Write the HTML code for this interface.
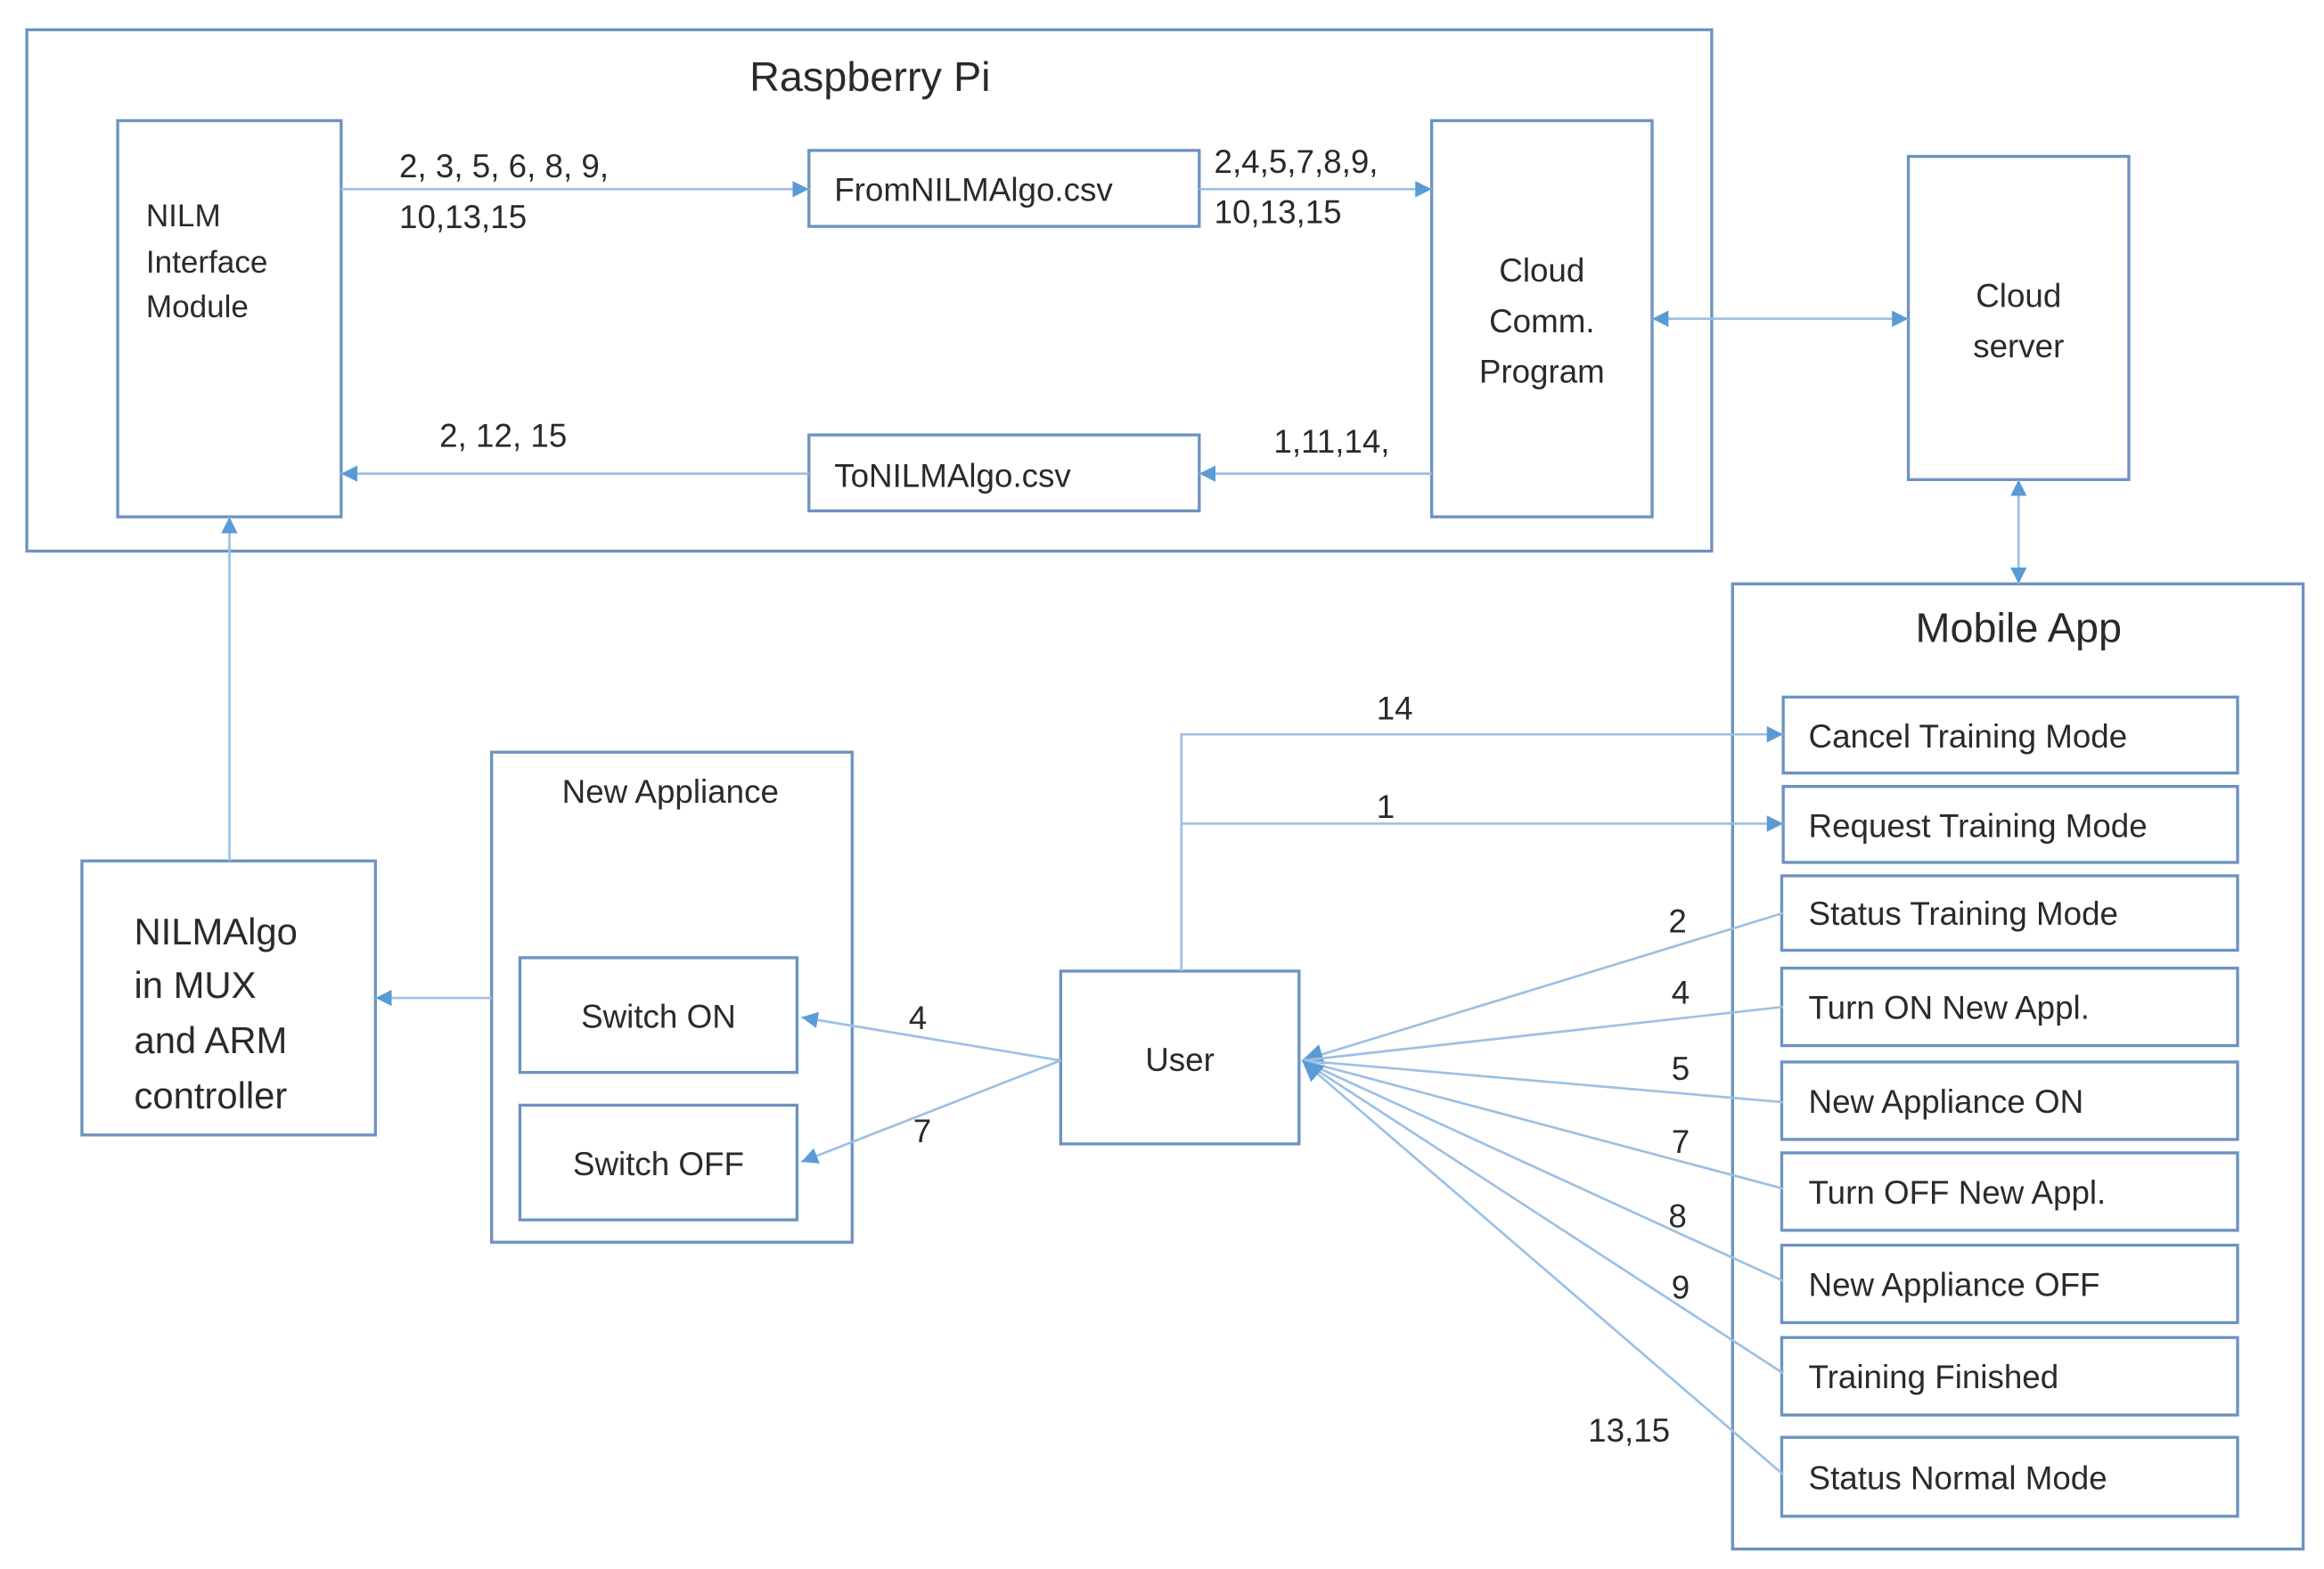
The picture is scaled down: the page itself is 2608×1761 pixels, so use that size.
<!DOCTYPE html>
<html><head><meta charset="utf-8"><style>
html,body{margin:0;padding:0;background:#fff;}
svg{display:block;}
text{font-family:"Liberation Sans",sans-serif;fill:#2a2a2a;}
</style></head><body>
<svg width="2608" height="1761" viewBox="0 0 1560 1053.4" preserveAspectRatio="none" xmlns="http://www.w3.org/2000/svg">
<defs>
<marker id="a" viewBox="0 0 10 10" refX="10" refY="5" markerWidth="11" markerHeight="11" orient="auto-start-reverse" markerUnits="userSpaceOnUse"><path d="M0,0 L10,5 L0,10 z" fill="#5b9bd5"/></marker>
<marker id="b" viewBox="0 0 10 10" refX="10" refY="5" markerWidth="14" markerHeight="14" orient="auto" markerUnits="userSpaceOnUse"><path d="M0,0 L10,5 L0,10 z" fill="#5b9bd5"/></marker>
</defs>
<g fill="#fff" stroke="#6d93c0" stroke-width="2">
<rect x="18" y="20" width="1131" height="350"/>
<rect x="79" y="81" width="150" height="266"/>
<rect x="543" y="101" width="262" height="51"/>
<rect x="543" y="292" width="262" height="51"/>
<rect x="961" y="81" width="148" height="266"/>
<rect x="1281" y="105" width="148" height="217"/>
<rect x="1163" y="392" width="383" height="648"/>
<rect x="1197" y="468" width="305" height="51"/>
<rect x="1197" y="528" width="305" height="51"/>
<rect x="1196" y="588" width="306" height="50"/>
<rect x="1196" y="650" width="306" height="52"/>
<rect x="1196" y="713" width="306" height="52"/>
<rect x="1196" y="774" width="306" height="52"/>
<rect x="1196" y="836" width="306" height="52"/>
<rect x="1196" y="898" width="306" height="52"/>
<rect x="1196" y="965" width="306" height="53"/>
<rect x="712" y="652" width="160" height="116"/>
<rect x="330" y="505" width="242" height="329"/>
<rect x="349" y="643" width="186" height="77"/>
<rect x="349" y="742" width="186" height="77"/>
<rect x="55" y="578" width="197" height="184"/>
</g>
<g stroke="#9cc0e4" stroke-width="1.6" fill="none">
<line x1="229" y1="127" x2="543" y2="127" marker-end="url(#a)"/>
<line x1="805" y1="127" x2="961" y2="127" marker-end="url(#a)"/>
<line x1="961" y1="318" x2="805" y2="318" marker-end="url(#a)"/>
<line x1="543" y1="318" x2="229" y2="318" marker-end="url(#a)"/>
<line x1="1109" y1="214" x2="1281" y2="214" marker-start="url(#a)" marker-end="url(#a)"/>
<line x1="1355" y1="322" x2="1355" y2="392" marker-start="url(#a)" marker-end="url(#a)"/>
<polyline points="793,652 793,493 1197,493" marker-end="url(#a)"/>
<line x1="793" y1="553" x2="1197" y2="553" marker-end="url(#a)"/>
<line x1="1197" y1="613" x2="874" y2="712" marker-end="url(#b)"/>
<line x1="1197" y1="676" x2="874" y2="712"/>
<line x1="1197" y1="740" x2="874" y2="712"/>
<line x1="1197" y1="798" x2="874" y2="712"/>
<line x1="1197" y1="860" x2="874" y2="712"/>
<line x1="1197" y1="922" x2="874" y2="712"/>
<line x1="1197" y1="990" x2="874" y2="712" marker-end="url(#b)"/>
<line x1="712" y1="712" x2="538" y2="683" marker-end="url(#a)"/>
<line x1="712" y1="712" x2="538" y2="780" marker-end="url(#a)"/>
<line x1="330" y1="670" x2="252" y2="670" marker-end="url(#a)"/>
<line x1="154" y1="578" x2="154" y2="347" marker-end="url(#a)"/>
</g>
<g font-size="28"><text x="584" y="61" text-anchor="middle">Raspberry Pi</text>
<text x="1355" y="431" text-anchor="middle">Mobile App</text></g>
<g font-size="21">
<text x="98" y="152">NILM</text><text x="98" y="183">Interface</text><text x="98" y="213">Module</text>
</g>
<g font-size="22">
<text x="560" y="135">FromNILMAlgo.csv</text>
<text x="560" y="327">ToNILMAlgo.csv</text>
<g text-anchor="middle"><text x="1035" y="189">Cloud</text><text x="1035" y="223">Comm.</text><text x="1035" y="257">Program</text>
<text x="1355" y="206">Cloud</text><text x="1355" y="240">server</text>
<text x="792" y="719">User</text>
<text x="450" y="539">New Appliance</text>
<text x="442" y="690">Switch ON</text>
<text x="442" y="789">Switch OFF</text></g>
<text x="268" y="119">2, 3, 5, 6, 8, 9,</text>
<text x="268" y="153">10,13,15</text>
<text x="815" y="116">2,4,5,7,8,9,</text>
<text x="815" y="150">10,13,15</text>
<text x="855" y="304">1,11,14,</text>
<text x="295" y="300">2, 12, 15</text>
<text x="924" y="483">14</text>
<text x="924" y="549">1</text>
<text x="1120" y="626">2</text>
<text x="1122" y="674">4</text>
<text x="1122" y="725">5</text>
<text x="1122" y="774">7</text>
<text x="1120" y="824">8</text>
<text x="1122" y="872">9</text>
<text x="1066" y="968">13,15</text>
<text x="610" y="691">4</text>
<text x="613" y="767">7</text>
<text x="1214" y="502">Cancel Training Mode</text>
<text x="1214" y="562">Request Training Mode</text>
<text x="1214" y="621">Status Training Mode</text>
<text x="1214" y="684">Turn ON New Appl.</text>
<text x="1214" y="747">New Appliance ON</text>
<text x="1214" y="808">Turn OFF New Appl.</text>
<text x="1214" y="870">New Appliance OFF</text>
<text x="1214" y="932">Training Finished</text>
<text x="1214" y="1000">Status Normal Mode</text>
</g>
<g font-size="25">
<text x="90" y="634">NILMAlgo</text><text x="90" y="670">in MUX</text><text x="90" y="707">and ARM</text><text x="90" y="744">controller</text>
</g>
</svg>
</body></html>
